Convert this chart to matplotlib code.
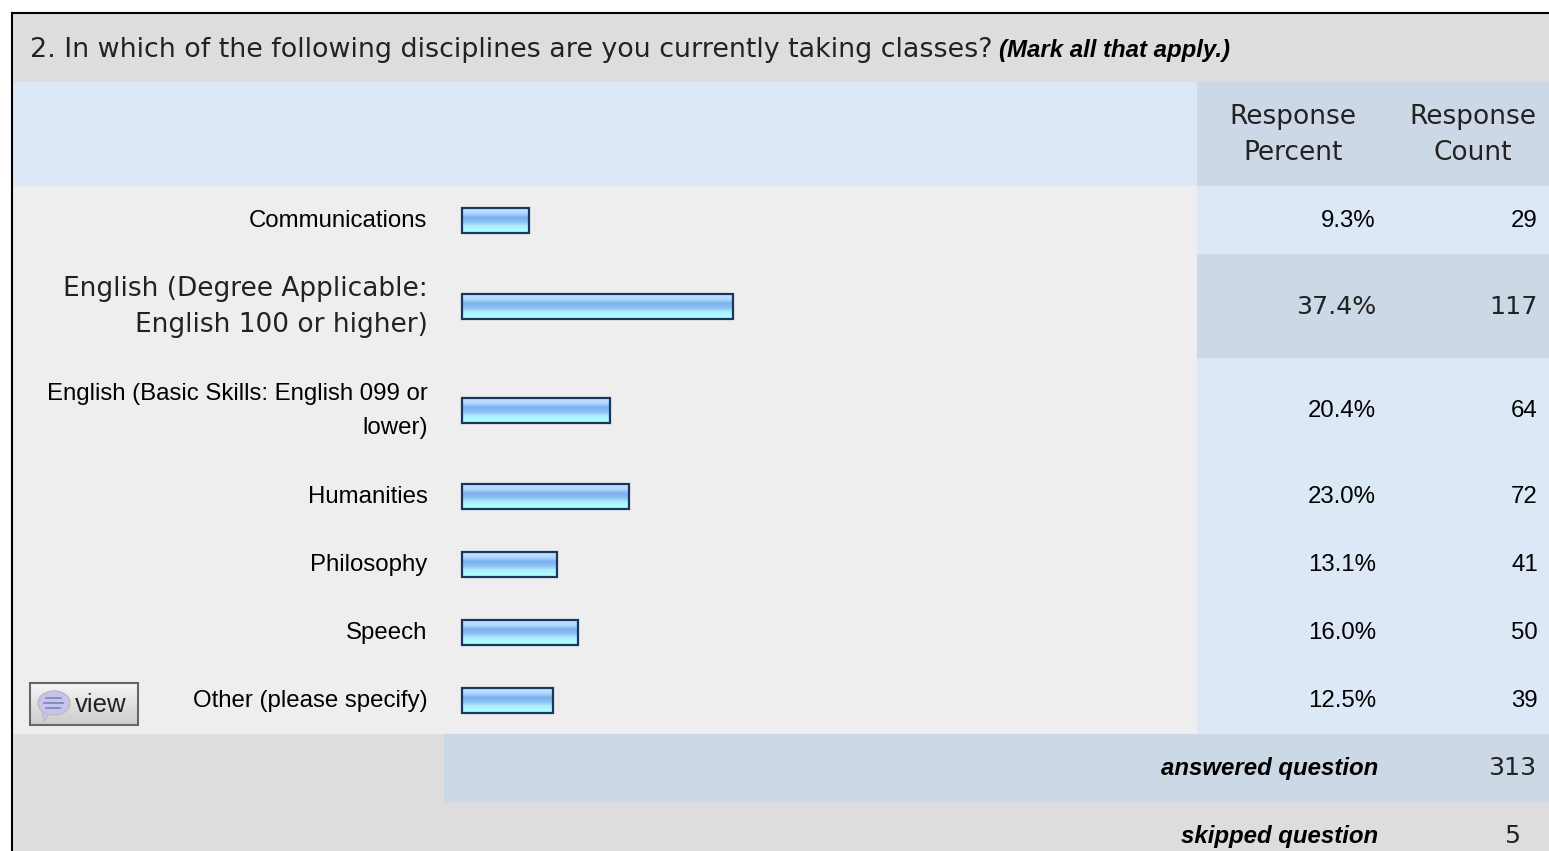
import matplotlib
matplotlib.use("Agg")
import matplotlib.pyplot as plt
import numpy as np
from matplotlib.patches import Rectangle, Ellipse, Polygon

W, H = 1549, 851

question = "2. In which of the following disciplines are you currently taking classes?"
question_note = "(Mark all that apply.)"
categories = ["Communications",
              "English (Degree Applicable:\nEnglish 100 or higher)",
              "English (Basic Skills: English 099 or\nlower)",
              "Humanities",
              "Philosophy",
              "Speech",
              "Other (please specify)"]
percents = [9.3, 37.4, 20.4, 23.0, 13.1, 16.0, 12.5]
counts = [29, 117, 64, 72, 41, 50, 39]
answered = 313
skipped = 5

row_edges = [186, 254, 358, 462, 530, 598, 666, 734]
# rows drawn in the wide font, the rest are arial-like
wide_rows = [1]

GREY = "#dddddd"
LIGHT = "#eeeeee"
BLUE = "#dce8f6"
BLUE2 = "#ccd8e6"
WIDE = "DejaVu Sans"
ARIAL = "Liberation Sans"
INK = "#222222"
FS_WIDE = 19.0
FS_NUM = 18.2
FS_ARIAL = 17.3

fig = plt.figure(figsize=(W / 100, H / 100), dpi=100, facecolor="white")
ax = fig.add_axes([0, 0, 1, 1])
ax.set_xlim(0, W)
ax.set_ylim(H, 0)
ax.axis("off")


def box(x0, y0, x1, y1, color):
    ax.add_patch(Rectangle((x0, y0), x1 - x0, y1 - y0, fc=color, ec="none", zorder=1))


# background blocks
box(13, 14, W, 82, GREY)
box(13, 82, 1197, 186, BLUE)
box(1197, 82, W, 186, BLUE2)
box(13, 186, 1197, 734, LIGHT)
for i in range(len(categories)):
    c = BLUE2 if i == 1 else BLUE
    box(1197, row_edges[i], W, row_edges[i + 1], c)
box(13, 734, 444, 802, GREY)
box(444, 734, W, 802, BLUE2)
box(13, 802, W, H, GREY)

# frame
ax.plot([12, W], [13, 13], color="black", lw=1.5, zorder=3)
ax.plot([12, 12], [13, H], color="black", lw=1.5, zorder=3)

# texts
ax.text(30, 50, question, fontsize=19.35, family=WIDE, color=INK, va="center", ha="left", zorder=4)
ax.text(999, 50, question_note, fontsize=FS_ARIAL, family=ARIAL, style="italic", weight="bold",
        color="black", va="center", ha="left", zorder=4)
ax.text(1293, 135, "Response\nPercent", fontsize=FS_WIDE, family=WIDE, color=INK, ha="center", va="center",
        linespacing=1.55, zorder=4)
ax.text(1473, 135, "Response\nCount", fontsize=FS_WIDE, family=WIDE, color=INK, ha="center", va="center",
        linespacing=1.55, zorder=4)

centers = [(row_edges[i] + row_edges[i + 1]) / 2 for i in range(len(categories))]
for i, y in enumerate(centers):
    wide = i in wide_rows
    fam = WIDE if wide else ARIAL
    fs = FS_WIDE if wide else FS_ARIAL
    num_fs = FS_NUM if wide else FS_ARIAL
    col = INK if wide else "black"
    ax.text(427.5, y + 1, categories[i], fontsize=fs, family=fam, color=col, ha="right",
            va="center", linespacing=1.55 if wide else 1.72, zorder=4)
    ax.text(1376, y + 1, "%.1f%%" % percents[i], fontsize=num_fs, family=fam, color=col,
            ha="right", va="center", zorder=4)
    ax.text(1538, y + 1, str(counts[i]), fontsize=num_fs, family=fam, color=col,
            ha="right", va="center", zorder=4)

ax.text(1378, 768, "answered question", fontsize=FS_ARIAL, family=ARIAL, style="italic", weight="bold",
        color="black", ha="right", va="center", zorder=4)
ax.text(1536, 768, str(answered), fontsize=FS_NUM, family=WIDE, color=INK, ha="right", va="center", zorder=4)
ax.text(1378, 836, "skipped question", fontsize=FS_ARIAL, family=ARIAL, style="italic", weight="bold",
        color="black", ha="right", va="center", zorder=4)
ax.text(1521, 836, str(skipped), fontsize=FS_NUM, family=WIDE, color=INK, ha="right", va="center", zorder=4)

# bars, on their own axes with x in percent
px_per_pct = 7.25
bx0, bx1, by0, by1 = 462, 1197, 186, 734
ax_b = fig.add_axes([bx0 / W, 1 - by1 / H, (bx1 - bx0) / W, (by1 - by0) / H])
ax_b.patch.set_alpha(0)
ax_b.set_xlim(0, (bx1 - bx0) / px_per_pct)
ax_b.set_ylim(by1, by0)
ax_b.axis("off")
shade = np.array([[0.76, 0.89, 1.0], [0.70, 0.85, 1.0], [0.48, 0.69, 0.93], [0.55, 0.75, 0.96],
                  [0.68, 0.92, 1.0], [0.68, 1.0, 1.0]])[:, None, :]
bars = ax_b.barh(centers, percents, height=25, facecolor="none", edgecolor="#17375e", linewidth=1.6,
                 zorder=3, clip_on=False)
for p, y in zip(percents, centers):
    ax_b.imshow(shade, extent=(0, p, y + 12.5, y - 12.5), aspect="auto", interpolation="bilinear", zorder=2)
ax_b.set_xlim(0, (bx1 - bx0) / px_per_pct)
ax_b.set_ylim(by1, by0)

# view button
grad = np.linspace(0.96, 0.80, 20)[:, None]
ax.imshow(grad, extent=(30, 138, 725, 683), cmap="gray", vmin=0, vmax=1, aspect="auto", zorder=2)
ax.add_patch(Rectangle((30, 683), 108, 42, fc="none", ec="#666666", lw=1.5, zorder=3))
ax.add_patch(Polygon([[42, 712], [50, 712], [44, 722]], fc="#c4c4ec", ec="#bbbbbb", lw=0.8, zorder=3))
ax.add_patch(Ellipse((54, 703), 32, 24, fc="#c4c4f0", ec="#bbbbbb", lw=1, zorder=3))
for yy, x0, x1 in [(698, 46, 61), (703, 44, 63), (708, 46, 60)]:
    ax.plot([x0, x1], [yy, yy], color="#8888b8", lw=1.3, zorder=4)
ax.text(75, 705, "view", fontsize=18.5, family=ARIAL, color="#222222", ha="left", va="center", zorder=4)
ax.set_xlim(0, W)
ax.set_ylim(H, 0)

fig.savefig("out.png", dpi=100)
